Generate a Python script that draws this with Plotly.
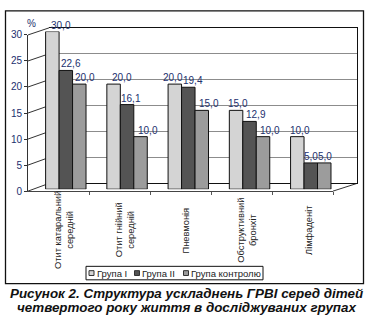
import plotly.graph_objects as go

# ---- data -------------------------------------------------------------
categories = [
    "Отит катаральний<br>середній",
    "Отит гнійний<br>середній",
    "Пневмонія",
    "Обструктивний<br>бронхіт",
    "Лімфаденіт",
]
series_names = ["Група I", "Група II", "Група контролю"]
group_1 = [30.0, 20.0, 20.0, 15.0, 10.0]
group_2 = [22.6, 16.1, 19.4, 12.9, 5.0]
group_control = [20.0, 10.0, 15.0, 10.0, 5.0]
y_ticks = [0, 5, 10, 15, 20, 25, 30]
caption = [
    "Рисунок 2. Структура ускладнень ГРВІ серед дітей",
    "четвертого року життя в досліджуваних групах",
]

# ---- styling ----------------------------------------------------------
W, H = 371, 335
FONT = "Liberation Sans, Arial, sans-serif"
NAVY = "#22306e"
bar_colors = ["#d4d4d4", "#545454", "#9c9c9c"]
BARGAP = 0.34
# horizontal nudges (px) of the value labels, per series / per category
label_nudge = [
    [8.5, 8, -2, 2, 3],
    [5.5, 4, 5, 6, 0.5],
    [6, 7, 7, 7, 0.5],
]


def px_x(x):
    return x / W


def px_y(y):
    return 1 - y / H


# pixel geometry of the pseudo-3D frame
WALL_L, WALL_R, WALL_B, WALL_T = 49, 357, 184, 22.7
FRONT_L, FRONT_R, FRONT_B, FRONT_T = 28, 333, 192, 30
BAR_L, BAR_R, BAR_B, BAR_T = 35.2, 341.4, 190, 26.5
YMAX = 30

fig = go.Figure()

# back wall subplot is drawn first (empty trace keeps it alive)
fig.add_trace(go.Scatter(x=[], y=[], xaxis="x", yaxis="y",
                         showlegend=False, hoverinfo="skip"))

# bars (subplot x2/y2, drawn above the back wall)
all_series = [group_1, group_2, group_control]
for name, vals, col in zip(series_names, all_series, bar_colors):
    fig.add_trace(go.Bar(
        x=categories, y=vals, name=name, xaxis="x2", yaxis="y2",
        marker=dict(color=col, line=dict(color="#111111", width=1)),
        showlegend=False, hoverinfo="skip",
    ))

# front axes
fig.add_trace(go.Scatter(x=[], y=[], xaxis="x3", yaxis="y3",
                         showlegend=False, hoverinfo="skip"))

annotations = []
# value labels above each bar
bw = (1 - BARGAP) / len(all_series)
for j, vals in enumerate(all_series):
    for i, v in enumerate(vals):
        annotations.append(dict(
            x=i + (j - 1) * bw, y=v, xref="x2", yref="y2",
            text=f"{v:.1f}".replace(".", ","), showarrow=False,
            xanchor="center", yanchor="bottom",
            xshift=label_nudge[j][i], yshift=-1,
            font=dict(family=FONT, size=10, color=NAVY),
        ))

# rotated category labels
for i, c in enumerate(categories):
    annotations.append(dict(
        x=i, y=px_y(232.5), xref="x2", yref="paper", text=c, textangle=-90,
        showarrow=False, xanchor="center", yanchor="middle", xshift=-2,
        font=dict(family=FONT, size=9.3, color="#222222"),
    ))

# axis unit
annotations.append(dict(
    x=px_x(31.5), y=px_y(18.5), xref="paper", yref="paper", text="%",
    showarrow=False, xanchor="center", yanchor="middle",
    font=dict(family=FONT, size=10, color=NAVY),
))

# caption, one annotation per line
for t, yc in zip(caption, [298.5, 312.5]):
    annotations.append(dict(
        x=px_x(186), y=px_y(yc), xref="paper", yref="paper",
        text=f"<b><i>{t}</i></b>",
        showarrow=False, xanchor="center", yanchor="middle",
        font=dict(family=FONT, size=13.4, color="#111111"),
    ))

shapes = []
# depth lines joining the front axis ticks to the back wall gridlines
for t in y_ticks:
    yf = FRONT_B - (FRONT_B - FRONT_T) * t / YMAX
    yb = WALL_B - (WALL_B - WALL_T) * t / YMAX
    shapes.append(dict(type="line", xref="paper", yref="paper", layer="below",
                       x0=px_x(FRONT_L), y0=px_y(yf), x1=px_x(WALL_L), y1=px_y(yb),
                       line=dict(color="#333333", width=1)))
# right edge of the floor
shapes.append(dict(type="line", xref="paper", yref="paper", layer="below",
                   x0=px_x(FRONT_R), y0=px_y(FRONT_B), x1=px_x(WALL_R), y1=px_y(WALL_B),
                   line=dict(color="#333333", width=1)))

# legend box
LEG_L, LEG_R, LEG_T, LEG_B = 86, 263, 270, 284
shapes.append(dict(type="rect", xref="paper", yref="paper",
                   x0=px_x(LEG_L), x1=px_x(LEG_R), y0=px_y(LEG_B), y1=px_y(LEG_T),
                   line=dict(color="#111111", width=1), fillcolor="white"))
leg_x = [89, 134.5, 183.5]
for lx, name, col in zip(leg_x, series_names, bar_colors):
    shapes.append(dict(type="rect", xref="paper", yref="paper",
                       x0=px_x(lx), x1=px_x(lx + 5), y0=px_y(279.5), y1=px_y(274.5),
                       line=dict(color="#333333", width=1), fillcolor=col))
    annotations.append(dict(
        x=px_x(lx + 5.5), y=px_y(277), xref="paper", yref="paper", text=name,
        showarrow=False, xanchor="left", yanchor="middle",
        font=dict(family=FONT, size=9.5, color="#222222"),
    ))

# outer frame
shapes.append(dict(type="rect", xref="paper", yref="paper",
                   x0=px_x(5.5), x1=px_x(363.5), y0=px_y(288), y1=px_y(5),
                   line=dict(color="#111111", width=1.3)))

fig.update_layout(
    width=W, height=H, margin=dict(l=0, r=0, t=0, b=0),
    paper_bgcolor="white", plot_bgcolor="rgba(0,0,0,0)",
    barmode="group", bargap=BARGAP, bargroupgap=0,
    annotations=annotations, shapes=shapes,
    # back wall with gridlines
    xaxis=dict(domain=[px_x(WALL_L), px_x(WALL_R)], range=[0, 1],
               showticklabels=False, ticks="", showgrid=False, zeroline=False,
               showline=True, mirror=True, linecolor="#111111", linewidth=1),
    yaxis=dict(domain=[px_y(WALL_B), px_y(WALL_T)], range=[0, YMAX],
               tickvals=y_ticks, showticklabels=False, ticks="", side="right",
               showgrid=True, gridcolor="#8c8c8c", gridwidth=1, zeroline=False,
               showline=True, linecolor="#111111", linewidth=1),
    # bars
    xaxis2=dict(domain=[px_x(BAR_L), px_x(BAR_R)], anchor="y2",
                type="category", range=[-0.5, len(categories) - 0.5],
                showticklabels=False, ticks="", showgrid=False, zeroline=False,
                showline=False),
    yaxis2=dict(domain=[px_y(BAR_B), px_y(BAR_T)], anchor="x2",
                range=[0, YMAX], visible=False),
    # front axes
    xaxis3=dict(domain=[px_x(FRONT_L), px_x(FRONT_R)], anchor="y3",
                range=[0, len(categories)],
                tickvals=list(range(1, len(categories) + 1)),
                ticks="outside", ticklen=3, tickcolor="#555555",
                showticklabels=False, showgrid=False, zeroline=False,
                showline=True, linecolor="#444444", linewidth=1),
    yaxis3=dict(domain=[px_y(FRONT_B), px_y(FRONT_T)], anchor="x3",
                range=[0, YMAX], tickvals=y_ticks,
                ticks="outside", ticklen=3, tickcolor="#333333",
                tickfont=dict(family=FONT, size=10, color=NAVY),
                showgrid=False, zeroline=False,
                showline=True, linecolor="#333333", linewidth=1),
)

fig.write_html("out.html")
